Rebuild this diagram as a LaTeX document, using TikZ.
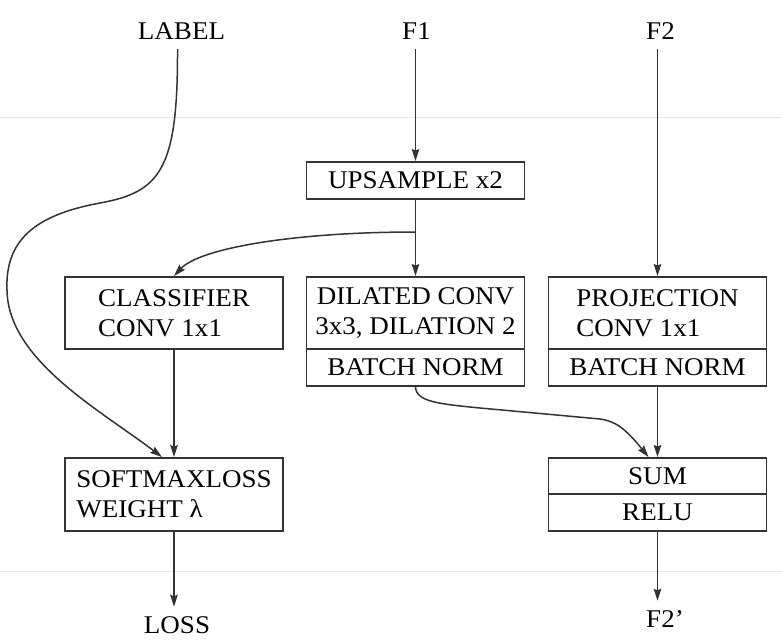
\documentclass[tikz,border=0pt]{standalone}
\usepackage{fontspec}
\setmainfont{Liberation Serif}[FakeStretch=1.06]
\usetikzlibrary{arrows.meta}
\begin{document}
\begin{tikzpicture}[x=1pt,y=-1pt,
 box/.style={draw=black!80, line width=1.9pt, minimum width=218pt, inner sep=0pt, font=\fontsize{25.5}{30}\selectfont, align=center},
 tall/.style={box, minimum height=72pt},
 short/.style={box, minimum height=37pt},
 lbl/.style={font=\fontsize{25.5}{30}\selectfont, inner xsep=2pt, inner ysep=9pt, text height=17pt, text depth=0pt},
 conn/.style={draw=black!80, line width=1.5pt, -{Stealth[length=12pt,width=7.5pt,inset=1.5pt]}},
 plain/.style={draw=black!80, line width=1.5pt},
 faint/.style={draw=black!9, line width=1pt}]
\useasboundingbox (0,0) rectangle (782,642);
\draw[faint] (0,117) -- (782,117);
\draw[faint] (0,571) -- (782,571);

\node[lbl, anchor=base] (label) at (181.5,40) {LABEL};
\node[lbl, anchor=base] (f1) at (416.5,40) {F1};
\node[lbl, anchor=base] (f2) at (660.5,40) {F2};
\node[short] (up) at (415.5,180.5) {UPSAMPLE x2};
\node[tall, align=left] (cls) at (174,313) {CLASSIFIER\\CONV 1x1};
\node[tall] (dil) at (415.5,313) {DILATED CONV\\3x3, DILATION 2};
\node[short] (dbn) at (415.5,367.5) {BATCH NORM};
\node[tall, align=left] (proj) at (657.5,313) {PROJECTION\\CONV 1x1};
\node[short] (pbn) at (657.5,367.5) {BATCH NORM};
\node[box, minimum height=73pt, align=left] (soft) at (174,494.5) {SOFTMAXLOSS\\WEIGHT λ};
\node[short, minimum height=36pt] (sum) at (657.5,476) {SUM};
\node[short] (relu) at (657.5,512.5) {RELU};
\node[lbl, anchor=base] (loss) at (177,633) {LOSS};
\node[lbl, anchor=base] (f2p) at (665,627) {F2’};
\coordinate (br) at (415.5,232);

\draw[conn] (f1.south -| up.north) -- (up.north);
\draw[plain] (up.south) -- (br);
\draw[conn] (br) -- (dil.north);
\draw[conn] (br) .. controls (295,232) and (200,248) .. (cls.north);
\draw[conn] (f2.south -| proj.north) -- (proj.north);
\draw[conn] (cls.south) -- (soft.north);
\draw[conn] (pbn.south) -- (sum.north);
\draw[conn] (soft.south) -- (soft.south |- loss.north);
\draw[conn] (relu.south) -- (relu.south |- f2p.north);
\draw[conn] ([xshift=-4pt]label.south) .. controls (178,170) and (160,192) .. (100,203)
  .. controls (35,215) and (5,240) .. (7,290)
  .. controls (8,360) and (100,410) .. ([xshift=-12pt]soft.north);
\draw[conn] (dbn.south) .. controls (416,402) and (440,404) .. (480,408) -- (600,419)
  .. controls (615,421) and (625,428) .. ([xshift=-9pt]sum.north);
\end{tikzpicture}
\end{document}
